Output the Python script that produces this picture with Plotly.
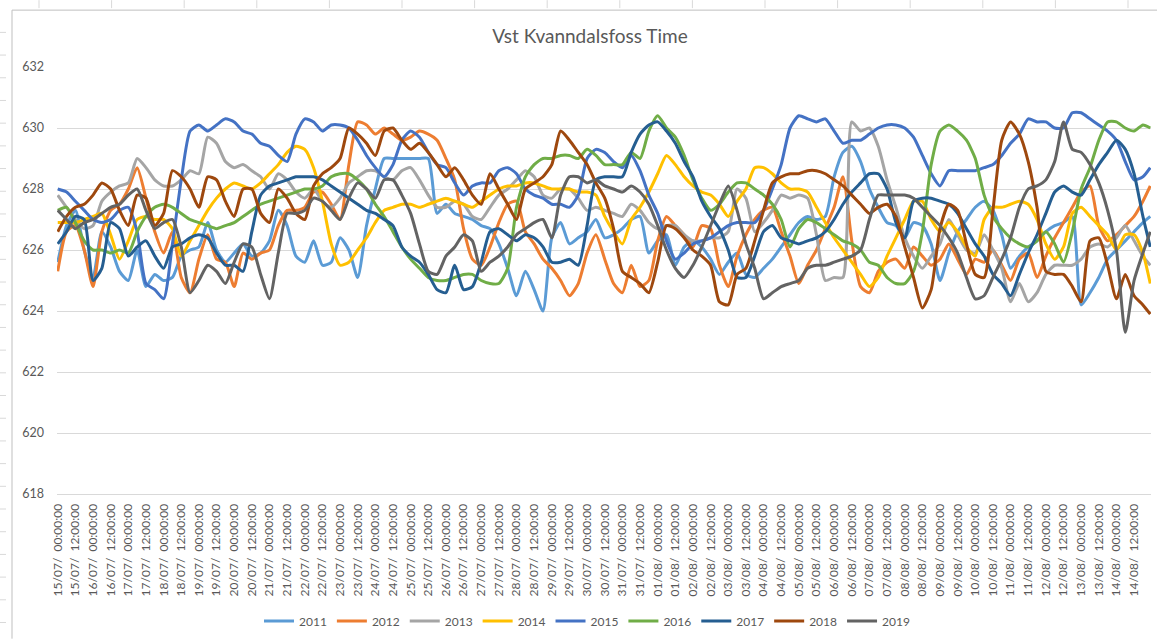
import plotly.graph_objects as go

# ---- Data (6-hourly samples, hour offsets from 15/07 00:00) ----
hours = list(range(0, 739, 6)) + [743]

days = ["15/07", "16/07", "17/07", "18/07", "19/07", "20/07", "21/07", "22/07",
        "23/07", "24/07", "25/07", "26/07", "27/07", "28/07", "29/07", "30/07",
        "31/07", "01/08", "02/08", "03/08", "04/08", "05/08", "06/08", "07/08",
        "08/08", "09/08", "10/08", "11/08", "12/08", "13/08", "14/08"]
times = ["00:00:00", "12:00:00"]

y2011 = [625.6, 626.8, 627.3, 626.0, 625.1, 626.6, 626.1, 625.3, 625.0, 626.0,
         624.8, 625.2, 625.0, 625.1, 625.8, 626.0, 626.1, 626.9, 626.0, 625.6,
         625.9, 626.2, 625.8, 625.9, 626.3, 627.3, 626.8, 625.8, 625.6, 626.3,
         625.5, 625.6, 626.4, 626.0, 625.1, 626.8, 628.0, 629.0, 629.0, 629.0,
         629.0, 629.0, 629.0, 627.2, 627.5, 627.2, 627.1, 627.0, 626.8, 626.7,
         626.2, 625.4, 624.5, 625.3, 624.7, 624.0, 626.4, 626.9, 626.2, 626.4,
         626.6, 627.0, 626.4, 626.5, 626.7, 627.0, 627.1, 625.9, 626.3, 626.5,
         625.5, 626.1, 626.3, 626.1, 625.7, 625.2, 625.6, 625.9, 625.2, 625.1,
         625.4, 625.7, 626.1, 626.5, 626.9, 627.1, 627.0, 627.1, 628.4, 629.2,
         629.4, 628.9, 628.0, 627.4, 626.9, 626.8, 626.4, 626.9, 626.8, 626.2,
         625.0, 625.9, 626.6, 627.0, 627.4, 627.6, 627.3, 626.5, 625.4, 625.8,
         626.1, 626.3, 626.6, 626.8, 626.9, 627.1, 624.2, 624.6, 625.1, 625.7,
         626.0, 626.3, 626.6, 626.9, 627.1]

y2012 = [625.3, 626.6, 626.8, 626.0, 624.8, 626.6, 627.3, 627.5, 628.0, 628.7,
         627.7, 626.6, 625.9, 626.6, 625.1, 624.6, 625.7, 626.5, 625.7, 625.6,
         624.8, 625.9, 625.7, 625.9, 626.0, 626.8, 627.3, 627.3, 627.4, 627.9,
         627.9, 627.5, 627.0, 628.8, 630.2, 630.1, 629.8, 630.0, 629.8, 629.6,
         629.7, 629.9, 629.8, 629.6, 629.0, 628.3, 626.7, 625.7, 625.5, 626.1,
         626.9, 627.5, 627.6, 626.6, 626.2, 625.7, 625.4, 625.0, 624.5, 624.9,
         625.9, 626.5, 625.7, 624.9, 624.6, 625.5, 624.8, 625.0, 626.3, 627.1,
         626.8, 626.5, 626.1, 626.8, 626.7, 625.5, 624.8, 625.8, 626.5, 627.0,
         627.3, 627.4, 626.6, 625.8, 624.9, 625.5, 626.0, 626.7, 627.4, 628.4,
         626.3, 624.8, 624.6, 625.3, 625.6, 625.7, 625.4, 626.1, 625.8, 625.5,
         625.7, 626.2, 625.7, 625.2, 625.7, 625.6, 626.0, 625.5, 625.0, 625.7,
         625.9, 625.1, 625.8, 626.4, 626.9, 627.4, 627.9, 628.1, 626.8, 626.3,
         626.5, 626.8, 627.1, 627.6, 628.1]

y2013 = [627.8, 627.4, 627.0, 626.7, 626.8, 627.6, 627.9, 628.1, 628.2, 629.0,
         628.7, 628.3, 628.1, 628.1, 628.3, 628.6, 628.5, 629.7, 629.5, 628.9,
         628.7, 628.8, 628.6, 628.4, 628.0, 628.5, 628.3, 627.9, 627.7, 628.0,
         627.6, 627.4, 627.7, 628.2, 628.4, 628.6, 628.6, 628.4, 628.3, 628.6,
         628.7, 628.3, 627.8, 627.4, 627.4, 627.6, 627.5, 627.1, 627.0, 627.4,
         627.8, 628.0, 628.3, 628.6, 628.4, 627.8, 627.7, 628.0, 628.0, 627.7,
         627.3, 627.4, 627.3, 627.2, 627.1, 627.5, 627.3, 626.9, 626.7, 626.8,
         626.8, 626.5, 626.3, 626.3, 626.4, 626.4, 626.6, 628.0, 627.7, 626.6,
         626.9, 627.3, 627.8, 627.7, 627.8, 627.7, 626.5, 625.0, 625.1, 625.1,
         630.2, 629.9, 630.0, 629.4, 628.3, 627.4, 626.4, 625.8, 625.4, 625.8,
         626.2, 627.0, 626.5, 626.0, 625.9, 626.5, 626.0, 625.4, 624.3, 624.9,
         624.3, 624.6, 625.2, 625.5, 625.5, 625.5, 625.7, 626.1, 626.2, 626.1,
         626.4, 626.8, 626.3, 625.8, 625.5]

y2014 = [626.9, 626.9, 626.9, 627.0, 627.1, 627.2, 626.5, 625.7, 626.3, 627.0,
         627.1, 627.0, 627.0, 626.7, 625.8, 626.3, 626.8, 627.3, 627.7, 628.0,
         628.2, 628.1, 628.0, 628.2, 628.5, 628.8, 629.2, 629.4, 629.3, 628.7,
         627.6, 626.2, 625.5, 625.6, 626.0, 626.4, 626.9, 627.3, 627.4, 627.5,
         627.5, 627.4, 627.5, 627.6, 627.7, 627.6, 627.5, 627.4, 627.6, 627.8,
         628.0, 628.1, 628.1, 628.2, 628.2, 628.1, 628.0, 628.0, 628.0, 627.9,
         627.9, 627.8, 627.1, 626.6, 626.2, 627.0, 627.4, 627.9, 628.5, 629.1,
         628.8, 628.4, 628.1, 627.9, 627.8, 627.5, 627.1, 627.6, 628.0, 628.7,
         628.7, 628.5, 628.2, 628.0, 628.0, 627.9, 627.4, 626.9, 626.4, 626.0,
         625.6, 625.2, 624.8, 625.1, 625.8, 626.4, 627.0, 627.6, 627.6, 627.0,
         626.6, 626.9, 626.6, 626.1, 625.8, 627.0, 627.4, 627.4, 627.5, 627.6,
         627.5, 627.0, 626.2, 625.7, 626.1, 627.2, 627.4, 627.1, 626.8, 626.5,
         626.0, 626.5, 626.5, 625.9, 624.9]

y2015 = [628.0, 627.9, 627.6, 627.3, 627.0, 626.9, 627.0, 627.3, 627.4, 626.6,
         624.9, 624.7, 624.4, 626.2, 628.3, 629.9, 630.1, 629.9, 630.1, 630.3,
         630.2, 629.9, 629.8, 629.5, 629.4, 629.1, 628.9, 629.8, 630.3, 630.2,
         629.9, 630.1, 630.1, 630.0, 629.6, 629.1, 628.7, 628.4, 628.8, 629.6,
         629.9, 629.7, 629.2, 628.8, 628.7, 628.2, 627.8, 628.1, 628.2, 628.2,
         628.6, 628.7, 628.5, 628.0, 627.8, 627.7, 627.5, 627.5, 627.4, 627.8,
         629.0, 629.3, 629.2, 628.9, 628.7, 629.1, 628.6, 627.8, 627.2, 626.3,
         625.7, 625.9, 626.2, 626.3, 626.4, 626.6, 626.8, 626.9, 626.9, 626.9,
         627.3, 628.0, 628.8, 630.0, 630.4, 630.3, 630.2, 630.3, 629.9, 629.5,
         629.6, 629.6, 629.8, 630.0, 630.1, 630.1, 630.0, 629.7, 629.1, 628.5,
         628.1, 628.6, 628.6, 628.6, 628.6, 628.7, 628.8, 629.1, 629.5, 629.8,
         630.3, 630.2, 630.2, 630.0, 630.0, 630.5, 630.5, 630.3, 630.1, 629.9,
         629.6, 628.9, 628.3, 628.4, 628.7]

y2016 = [627.3, 627.4, 626.9, 626.3, 626.0, 626.0, 625.9, 626.0, 625.9, 626.6,
         627.1, 627.4, 627.5, 627.4, 627.2, 627.0, 626.9, 626.8, 626.7, 626.8,
         626.9, 627.1, 627.3, 627.5, 627.6, 627.7, 627.8, 627.9, 628.0, 628.0,
         628.1, 628.4, 628.5, 628.5, 628.3, 628.0, 627.5, 627.1, 626.6, 626.1,
         625.7, 625.4, 625.1, 625.0, 625.0, 625.1, 625.2, 625.2, 625.0, 624.9,
         624.9, 625.4, 627.4, 628.4, 628.8, 629.0, 629.0, 629.1, 629.1, 629.0,
         629.3, 629.1, 628.8, 628.8, 628.8, 629.2, 629.0, 629.9, 630.4, 630.0,
         629.7, 629.1, 628.3, 627.7, 627.3, 627.5, 627.9, 628.2, 628.2, 628.0,
         627.8, 627.5, 627.0, 626.1, 626.7, 627.0, 626.9, 626.7, 626.5, 626.3,
         626.2, 626.0, 625.6, 625.5, 625.1, 624.9, 624.9, 625.3, 626.6, 628.8,
         629.9, 630.1, 629.9, 629.6, 629.0, 627.8, 627.1, 626.7, 626.4, 626.2,
         626.1, 626.3, 626.6, 626.2, 625.6, 626.6, 628.0, 628.7, 629.6, 630.2,
         630.2, 630.0, 629.9, 630.1, 630.0]

y2017 = [626.2, 626.6, 627.1, 627.0, 625.0, 625.4, 626.9, 626.7, 625.8, 626.1,
         626.3, 625.8, 625.4, 626.1, 626.2, 626.4, 626.5, 626.4, 625.9, 625.5,
         625.5, 625.3, 626.6, 627.8, 628.1, 628.2, 628.3, 628.4, 628.4, 628.4,
         628.3, 628.1, 627.9, 627.7, 627.5, 627.3, 627.2, 627.0, 626.8, 626.1,
         625.8, 625.6, 625.2, 624.7, 624.6, 625.5, 624.7, 624.8, 625.6, 626.6,
         626.7, 626.5, 626.3, 626.5, 626.4, 626.1, 625.6, 625.6, 625.7, 625.5,
         626.8, 628.3, 628.4, 628.4, 628.4, 629.2, 629.8, 630.1, 630.2, 629.9,
         629.5, 628.9, 628.4, 627.6, 627.1, 626.7, 626.0, 625.1, 625.1, 625.8,
         626.6, 626.8, 626.4, 626.3, 626.2, 626.3, 626.4, 626.6, 627.0, 627.5,
         627.9, 628.2, 628.5, 628.5, 628.0, 626.9, 626.4, 627.6, 627.7, 627.7,
         627.6, 627.5, 627.2, 626.7, 626.2, 625.8, 625.2, 624.9, 624.5, 625.2,
         625.9, 626.5, 627.2, 627.9, 628.1, 627.9, 627.8, 628.3, 628.8, 629.2,
         629.6, 629.3, 628.5, 627.1, 626.1]

y2018 = [626.6, 627.1, 627.4, 627.5, 627.8, 628.2, 628.0, 627.3, 626.8, 627.8,
         627.7, 626.8, 627.2, 628.6, 628.4, 628.0, 627.4, 628.4, 628.3, 627.6,
         627.1, 628.0, 628.0, 627.2, 626.9, 628.0, 627.7, 627.2, 627.0, 628.1,
         628.5, 628.7, 629.0, 630.0, 629.8, 629.5, 629.1, 629.9, 630.0, 629.6,
         629.3, 629.5, 629.2, 628.8, 628.4, 628.7, 628.3, 627.8, 627.5, 628.5,
         628.0, 627.5, 627.0, 628.0, 628.2, 628.4, 628.8, 629.9, 629.6, 629.2,
         628.8, 628.2, 627.7, 626.7, 625.3, 625.1, 624.9, 624.6, 625.6, 626.8,
         626.7, 626.4, 626.0, 625.8, 625.5, 624.3, 624.2, 625.2, 625.4, 626.3,
         627.3, 628.2, 628.4, 628.5, 628.5, 628.6, 628.6, 628.5, 628.3, 628.1,
         627.8, 627.5, 627.2, 627.4, 627.5, 627.1, 626.1, 625.1, 624.1, 624.7,
         626.7, 627.5, 627.3, 626.2, 625.2, 625.1, 627.3, 629.6, 630.2, 629.8,
         628.9, 627.4, 625.3, 625.2, 625.2, 624.8, 624.3, 626.3, 626.4, 625.5,
         624.4, 625.2, 624.5, 624.2, 623.9]

y2019 = [627.3, 627.0, 626.7, 626.9, 627.0, 627.2, 627.4, 627.5, 627.8, 628.0,
         627.3, 626.7, 626.9, 627.0, 626.1, 624.6, 625.0, 625.5, 625.3, 624.9,
         625.6, 626.2, 626.1, 625.2, 624.4, 625.9, 627.2, 627.2, 627.3, 627.7,
         627.6, 627.3, 627.0, 627.7, 628.2, 628.0, 627.7, 628.3, 628.3, 627.8,
         627.2, 626.2, 625.3, 625.2, 625.8, 626.1, 626.5, 626.3, 625.3, 625.6,
         625.8, 626.1, 626.5, 626.7, 626.9, 627.0, 626.4, 627.8, 628.4, 628.4,
         628.2, 628.3, 628.1, 628.0, 627.9, 628.1, 627.9, 627.5, 626.8, 626.0,
         625.4, 625.1, 625.5, 626.1, 626.8, 627.5, 628.1, 627.3, 626.2, 625.4,
         624.4, 624.6, 624.8, 624.9, 625.0, 625.4, 625.5, 625.5, 625.6, 625.7,
         625.8, 626.0, 627.0, 627.8, 627.8, 627.8, 627.8, 627.7, 627.4, 627.1,
         626.8, 626.4, 625.9, 625.1, 624.4, 624.5, 625.1, 625.7, 626.4, 627.4,
         628.0, 628.1, 628.3, 628.9, 630.2, 629.3, 629.2, 628.8, 628.2, 627.3,
         626.0, 623.3, 625.0, 625.9, 626.6]

series_names = ["2011", "2012", "2013", "2014", "2015", "2016", "2017", "2018", "2019"]
series_values = [y2011, y2012, y2013, y2014, y2015, y2016, y2017, y2018, y2019]
colors = ["#5B9BD5", "#ED7D31", "#A5A5A5", "#FFC000", "#4472C4",
          "#70AD47", "#255E91", "#9E480E", "#636363"]

y_ticks = [618, 620, 622, 624, 626, 628, 630, 632]

# tick labels every 12 hours
tick_vals = []
tick_text = []
for i, d in enumerate(days):
    for j, t in enumerate(times):
        tick_vals.append(i * 24 + j * 12)
        tick_text.append(d + "/\u00a0\u00a0" + t)

FONT = "Lato, 'Open Sans', sans-serif"
GREY = "#595959"

# plot-area geometry (pixels) used for decorations in paper coords
W, H = 1157, 640
ML, MR, MT, MB = 57, 6, 67, 145
PW, PH = W - ML - MR, H - MT - MB


def px(x):
    return (x - ML) / PW


def py(y):
    return (H - MB - y) / PH


fig = go.Figure()
for name, vals, col in zip(series_names, series_values, colors):
    fig.add_trace(go.Scatter(
        x=hours, y=vals, name=name, mode="lines",
        line=dict(color=col, width=3, shape="spline", smoothing=0.6),
    ))

fig.update_layout(
    width=W, height=H,
    paper_bgcolor="white", plot_bgcolor="white",
    margin=dict(l=ML, r=MR, t=MT, b=MB),
    title=dict(text="Vst Kvanndalsfoss Time", x=px(590), xanchor="center",
               xref="paper", y=1 - 36 / H, yanchor="middle",
               font=dict(family=FONT, size=19, color=GREY)),
    font=dict(family=FONT, size=12, color=GREY),
    showlegend=True,
    legend=dict(orientation="h", x=px(587), xanchor="center", y=py(621),
                yanchor="middle", font=dict(family=FONT, size=12, color=GREY),
                itemwidth=30, traceorder="normal", bgcolor="rgba(0,0,0,0)"),
    xaxis=dict(range=[-0.5, 743.5], tickmode="array", tickvals=tick_vals,
               ticktext=tick_text, tickangle=-90, showgrid=False,
               zeroline=False, showline=True, linecolor="#D9D9D9", linewidth=1,
               ticks="", ticklabelstandoff=4,
               tickfont=dict(family=FONT, size=12, color=GREY)),
    yaxis=dict(range=[618, 632], tickmode="array", tickvals=y_ticks,
               showgrid=True, gridcolor="#D9D9D9", gridwidth=1,
               zeroline=False, showline=False, ticks="", ticklabelstandoff=12,
               tickfont=dict(family=FONT, size=12.5, color=GREY)),
)

shapes = []
# chart-area frame (left and top edges visible in the reference)
shapes.append(dict(type="line", xref="paper", yref="paper",
                   x0=px(12), x1=px(12), y0=py(10), y1=py(640),
                   line=dict(color="#BFBFBF", width=1)))
shapes.append(dict(type="line", xref="paper", yref="paper",
                   x0=px(12), x1=px(1157), y0=py(10), y1=py(10),
                   line=dict(color="#BFBFBF", width=1)))
# faint sheet grid stubs outside the chart frame
for i in range(27):
    yy = 32.3 + 22.75 * i
    shapes.append(dict(type="line", xref="paper", yref="paper",
                       x0=px(0), x1=px(6), y0=py(yy), y1=py(yy),
                       line=dict(color="#D9D9D9", width=1)))
for i in range(16):
    xx = 39 + 72.6 * i
    shapes.append(dict(type="line", xref="paper", yref="paper",
                       x0=px(xx), x1=px(xx), y0=py(0), y1=py(8),
                       line=dict(color="#D9D9D9", width=1)))
fig.update_layout(shapes=shapes)

fig.write_html("out.html",
               config={"displayModeBar": False},
               post_script="document.body.style.margin='0';"
                           "document.body.style.overflow='hidden';")
